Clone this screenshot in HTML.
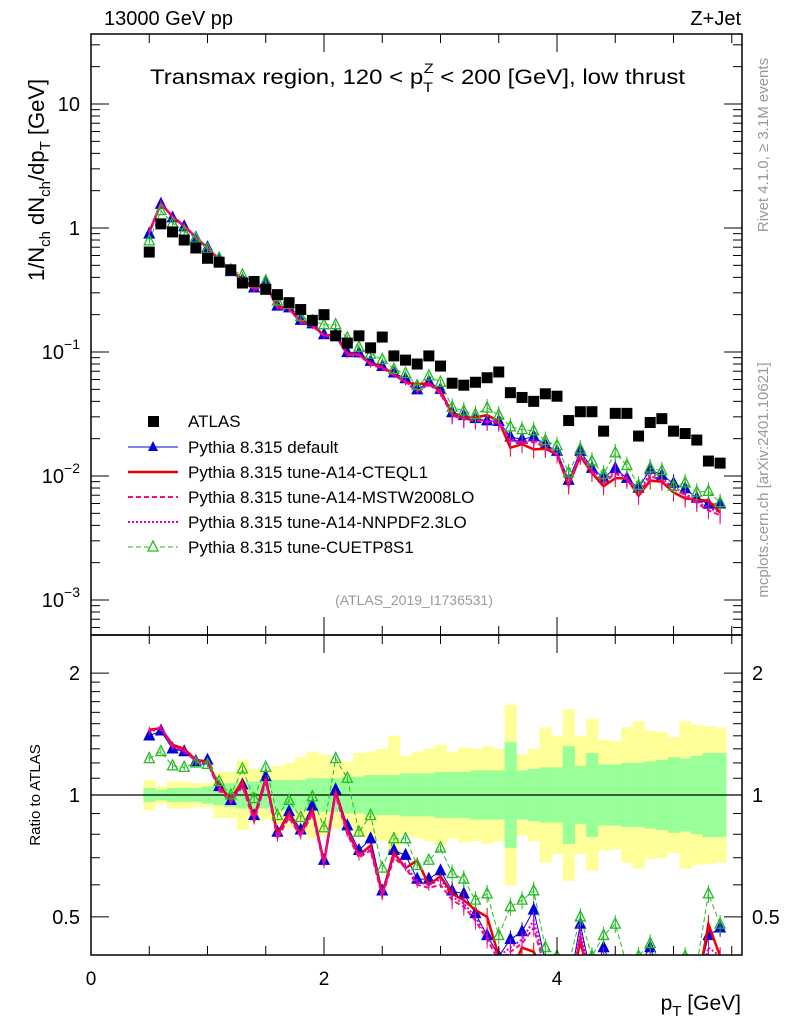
<!DOCTYPE html>
<html><head><meta charset="utf-8"><style>
body{margin:0;background:#fff;width:786px;height:1024px;overflow:hidden}
svg text{font-family:"Liberation Sans",sans-serif}
</style></head><body>
<svg id="c" width="786" height="1024" xmlns="http://www.w3.org/2000/svg"></svg>
<script>
const xCenters=[0.5,0.6,0.7,0.8,0.9,1.0,1.1,1.2,1.3,1.4,1.5,1.6,1.7,1.8,1.9,2.0,2.1,2.2,2.3,2.4,2.5,2.6,2.7,2.8,2.9,3.0,3.1,3.2,3.3,3.4,3.5,3.6,3.7,3.8,3.9,4.0,4.1,4.2,4.3,4.4,4.5,4.6,4.7,4.8,4.9,5.0,5.1,5.2,5.3,5.4];
const atlas=[0.64,1.08,0.93,0.80,0.69,0.57,0.53,0.46,0.36,0.37,0.32,0.29,0.25,0.22,0.18,0.20,0.135,0.118,0.135,0.108,0.132,0.093,0.086,0.080,0.093,0.077,0.056,0.054,0.057,0.062,0.069,0.047,0.043,0.040,0.046,0.044,0.028,0.033,0.033,0.023,0.032,0.032,0.021,0.027,0.029,0.023,0.022,0.0195,0.0132,0.0127];
const rDefault=[1.40,1.44,1.30,1.28,1.21,1.22,1.05,0.97,1.06,0.89,1.11,0.81,0.91,0.82,0.94,0.69,1.03,0.84,0.73,0.78,0.58,0.73,0.71,0.62,0.62,0.65,0.58,0.57,0.51,0.45,0.40,0.44,0.46,0.52,0.39,0.36,0.33,0.48,0.35,0.42,0.36,0.30,0.38,0.42,0.35,0.38,0.36,0.34,0.45,0.47];
const rCTEQ=[1.45,1.46,1.33,1.30,1.22,1.21,1.05,0.98,1.08,0.88,1.10,0.80,0.90,0.80,0.92,0.68,1.02,0.82,0.71,0.75,0.57,0.72,0.66,0.69,0.60,0.63,0.57,0.55,0.52,0.50,0.40,0.36,0.42,0.41,0.36,0.34,0.30,0.44,0.32,0.36,0.30,0.30,0.33,0.34,0.31,0.32,0.30,0.33,0.48,0.40];
const rMSTW=[1.44,1.47,1.31,1.29,1.21,1.20,1.03,0.96,1.05,0.86,1.08,0.78,0.88,0.79,0.90,0.67,1.00,0.80,0.70,0.73,0.56,0.70,0.66,0.60,0.59,0.60,0.55,0.53,0.49,0.44,0.39,0.41,0.43,0.47,0.37,0.34,0.31,0.45,0.33,0.38,0.33,0.29,0.34,0.37,0.32,0.34,0.32,0.31,0.40,0.38];
const rNNPDF=[1.43,1.46,1.32,1.28,1.22,1.20,1.04,0.97,1.06,0.87,1.09,0.79,0.89,0.80,0.91,0.68,1.01,0.81,0.71,0.74,0.57,0.71,0.67,0.61,0.60,0.62,0.56,0.54,0.50,0.45,0.40,0.42,0.44,0.49,0.38,0.35,0.32,0.46,0.34,0.40,0.34,0.30,0.35,0.39,0.33,0.35,0.33,0.32,0.42,0.40];
const rCUETP=[1.23,1.28,1.18,1.17,1.20,1.19,1.08,1.00,1.16,0.98,1.17,0.89,0.97,0.88,0.99,0.83,1.23,1.10,0.81,0.89,0.66,0.78,0.78,0.67,0.69,0.74,0.64,0.62,0.55,0.57,0.45,0.53,0.55,0.58,0.42,0.40,0.38,0.50,0.40,0.45,0.48,0.38,0.40,0.43,0.38,0.36,0.40,0.38,0.57,0.48];
const bandOuter=[1.09,1.05,1.08,1.08,1.07,1.07,1.14,1.14,1.22,1.16,1.15,1.18,1.20,1.24,1.28,1.26,1.21,1.21,1.27,1.28,1.30,1.40,1.25,1.28,1.30,1.33,1.28,1.31,1.30,1.32,1.30,1.67,1.26,1.30,1.47,1.40,1.63,1.40,1.54,1.37,1.36,1.47,1.52,1.44,1.43,1.39,1.52,1.49,1.48,1.47];
const bandInner=[1.04,1.03,1.04,1.04,1.04,1.05,1.06,1.07,1.08,1.08,1.08,1.09,1.09,1.09,1.10,1.10,1.10,1.11,1.11,1.12,1.12,1.12,1.13,1.13,1.13,1.14,1.14,1.14,1.15,1.15,1.15,1.35,1.15,1.16,1.17,1.17,1.32,1.18,1.27,1.19,1.19,1.20,1.20,1.21,1.22,1.24,1.23,1.25,1.27,1.27];
const xTickLabels=["0","2","4"];

const NS="http://www.w3.org/2000/svg", svg=document.getElementById('c');
const L=91,R=742,T=34,MB=635,RB=955;
const X=v=>L+v*116.5;
const Y=v=>228-124*Math.log10(v);
const YR=v=>795-405*Math.log10(v);
function mk(tag,attrs,parent){const e=document.createElementNS(NS,tag);for(const k in attrs)e.setAttribute(k,attrs[k]);(parent||svg).appendChild(e);return e;}
function txt(s,x,y,size,attrs,parent){const e=mk('text',Object.assign({x:x,y:y,'font-size':size},attrs||{}),parent);e.textContent=s;return e;}

const defs=mk('defs',{});
const cp1=mk('clipPath',{id:'cm'},defs);mk('rect',{x:L,y:T,width:R-L,height:MB-T},cp1);
const cp2=mk('clipPath',{id:'cr'},defs);mk('rect',{x:L,y:MB,width:R-L,height:RB-MB},cp2);

const gBands=mk('g',{'clip-path':'url(#cr)'});


xCenters.forEach((x,i)=>{
  const a=mk('rect',{x:X(x-0.05),y:YR(bandOuter[i]),width:116.5*0.1+0.5,height:YR(1/bandOuter[i])-YR(bandOuter[i]),fill:'#ffff99'},gBands);
  
  
});
xCenters.forEach((x,i)=>{
  const a=mk('rect',{x:X(x-0.05),y:YR(bandInner[i]),width:116.5*0.1+0.5,height:YR(1/bandInner[i])-YR(bandInner[i]),fill:'#99ff99'},gBands);
  
  
});
const one=mk('line',{x1:L,x2:R,y1:YR(1),y2:YR(1),stroke:'#000','stroke-width':1.3});



const series=[
 {name:'pythia-default',r:rDefault,color:'#0000dd',w:1,dash:'',marker:'tri'},
 {name:'pythia-a14-cteql1',r:rCTEQ,color:'#ee0000',w:2.5,dash:'',marker:'none'},
 {name:'pythia-a14-mstw2008lo',r:rMSTW,color:'#ee1177',w:2,dash:'5,3',marker:'none'},
 {name:'pythia-a14-nnpdf23lo',r:rNNPDF,color:'#dd00cc',w:2,dash:'2,2',marker:'none'},
 {name:'pythia-cuetp8s1',r:rCUETP,color:'#22bb22',w:1,dash:'5,3',marker:'otri'}
];
function drawSeries(s,yf,clip,valf,suffix){
  const g=mk('g',{'clip-path':clip});
  
  
  const pts=xCenters.map((x,i)=>X(x).toFixed(1)+','+yf(valf(i)).toFixed(1)).join(' ');
  const pl=mk('polyline',{points:pts,fill:'none',stroke:s.color,'stroke-width':s.w,'stroke-dasharray':s.dash},g);
  
  
  xCenters.forEach((x,i)=>{
    const cx=X(x),cy=yf(valf(i));
    const err=x>3?9:3;
    mk('line',{x1:cx,x2:cx,y1:cy-err,y2:cy+err,stroke:s.color,'stroke-width':1},g);
    if(s.marker!=='none'){
      const m=mk('polygon',{points:`${cx},${cy-6} ${cx-5},${cy+4} ${cx+5},${cy+4}`,fill:s.marker==='tri'?s.color:'none',stroke:s.color,'stroke-width':1.3},g);
      
      
    }
  });
}
series.forEach(s=>drawSeries(s,Y,'url(#cm)',i=>atlas[i]*s.r[i],'-main'));
series.forEach(s=>drawSeries(s,YR,'url(#cr)',i=>s.r[i],'-ratio'));

const ga=mk('g',{});


xCenters.forEach((x,i)=>{
  const r=mk('rect',{x:X(x)-5.5,y:Y(atlas[i])-5.5,width:11,height:11,fill:'#000'},ga);
  
  
});

const f1=mk('rect',{x:L,y:T,width:R-L,height:MB-T,fill:'none',stroke:'#000','stroke-width':1.5});

const f2=mk('rect',{x:L,y:MB,width:R-L,height:RB-MB,fill:'none',stroke:'#000','stroke-width':1.5});


const gx=mk('g',{stroke:'#000','stroke-width':1});

for(let v=0;v<=5.5;v+=0.5){
  const big=Math.abs(v%2)<1e-6, len=big?18:9, px=X(v);
  [[T,1],[MB,-1],[MB,1],[RB,-1]].forEach(([y0,d])=>mk('line',{x1:px,x2:px,y1:y0,y2:y0+d*len},gx));
}
xTickLabels.forEach((s,i)=>{const t=txt(s,X(i*2),985,19,{'text-anchor':'middle'});});
const gy=mk('g',{stroke:'#000','stroke-width':1});

for(let d=-4;d<=1;d++)for(let m=1;m<=9;m++){
  const v=m*Math.pow(10,d),py=Y(v);if(py<T||py>MB)continue;
  const len=m===1?18:9;
  mk('line',{x1:L,x2:L+len,y1:py,y2:py},gy);mk('line',{x1:R,x2:R-len,y1:py,y2:py},gy);
}
const yl=[[10,'10',''],[1,'1',''],[0.1,'10','−1'],[0.01,'10','−2'],[0.001,'10','−3']];
yl.forEach(([v,b,e])=>{
  const t=mk('text',{x:80,y:Y(v)+7,'font-size':20,'text-anchor':'end'});
  t.textContent=b;
  if(e){const ts=mk('tspan',{dy:-10,'font-size':14},t);ts.textContent=e;}
  
});
for(const v of [0.4,0.5,0.6,0.7,0.8,0.9,1,1.1,1.2,1.3,1.4,1.5,1.6,1.7,1.8,1.9,2]){
  const py=YR(v);if(py<MB||py>RB)continue;
  const len=(v===0.5||v===1||v===2)?18:9;
  mk('line',{x1:L,x2:L+len,y1:py,y2:py},gy);mk('line',{x1:R,x2:R-len,y1:py,y2:py},gy);
}
[[2,'2'],[1,'1'],[0.5,'0.5']].forEach(([v,s])=>{
  const t=txt(s,80,YR(v)+7,20,{'text-anchor':'end'});
  const t2=txt(s,752,YR(v)+7,20,{});
});
</script>
<svg width="786" height="1024" style="position:absolute;left:0;top:0" xmlns="http://www.w3.org/2000/svg">
<text x="104" y="25" font-size="20" font-family="Liberation Sans">13000 GeV pp</text>
<text x="741" y="25" font-size="20" font-family="Liberation Sans" text-anchor="end">Z+Jet</text>
<text x="150" y="84" font-size="21" font-family="Liberation Sans" textLength="535" lengthAdjust="spacingAndGlyphs">Transmax region, 120 &lt; p<tspan dy="8" font-size="14">T</tspan><tspan dx="-8" dy="-19" font-size="14">Z</tspan><tspan dy="11"> &lt; 200 [GeV], low thrust</tspan></text>
<text transform="translate(44,180) rotate(-90)" font-size="22" font-family="Liberation Sans" text-anchor="middle">1/N<tspan dy="6" font-size="15">ch</tspan><tspan dy="-6"> dN</tspan><tspan dy="6" font-size="15">ch</tspan><tspan dy="-6">/dp</tspan><tspan dy="6" font-size="15">T</tspan><tspan dy="-6"> [GeV]</tspan></text>
<text transform="translate(40,795) rotate(-90)" font-size="15" font-family="Liberation Sans" text-anchor="middle">Ratio to ATLAS</text>
<text x="741" y="1010" font-size="21" font-family="Liberation Sans" text-anchor="end">p<tspan dy="6" font-size="15">T</tspan><tspan dy="-6"> [GeV]</tspan></text>
<text transform="translate(768,145) rotate(-90)" font-size="15" fill="#999" font-family="Liberation Sans" text-anchor="middle">Rivet 4.1.0, ≥ 3.1M events</text>
<text transform="translate(768,480) rotate(-90)" font-size="15" fill="#999" font-family="Liberation Sans" text-anchor="middle">mcplots.cern.ch [arXiv:2401.10621]</text>
<text x="414" y="605" font-size="14" fill="#999" font-family="Liberation Sans" text-anchor="middle">(ATLAS_2019_I1736531)</text>
<g font-family="Liberation Sans" font-size="17">
<g><rect x="148" y="416" width="11" height="11" fill="#000"/><text x="188" y="427">ATLAS</text></g>
<g><line x1="128" x2="178" y1="447" y2="447" stroke="#0000dd"/><polygon points="153,441 148,451 158,451" fill="#0000dd"/><text x="188" y="453">Pythia 8.315 default</text></g>
<g><line x1="128" x2="178" y1="472" y2="472" stroke="#ee0000" stroke-width="2.5"/><text x="188" y="478">Pythia 8.315 tune-A14-CTEQL1</text></g>
<g><line x1="128" x2="178" y1="497" y2="497" stroke="#ee1177" stroke-width="2" stroke-dasharray="5,3"/><text x="188" y="503">Pythia 8.315 tune-A14-MSTW2008LO</text></g>
<g><line x1="128" x2="178" y1="522" y2="522" stroke="#dd00cc" stroke-width="2" stroke-dasharray="2,2"/><text x="188" y="528">Pythia 8.315 tune-A14-NNPDF2.3LO</text></g>
<g><line x1="128" x2="178" y1="547" y2="547" stroke="#22bb22" stroke-dasharray="5,3"/><polygon points="153,541 148,551 158,551" fill="#fff" stroke="#22bb22" stroke-width="1.3"/><text x="188" y="553">Pythia 8.315 tune-CUETP8S1</text></g>
</g>
</svg>
</body></html>
